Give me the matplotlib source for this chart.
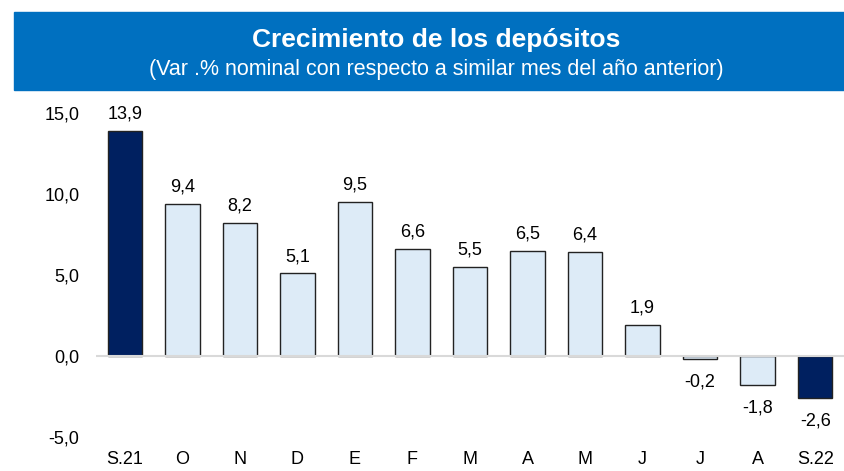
import numpy as np
import matplotlib.pyplot as plt
from matplotlib.patches import Rectangle

plt.rcParams['font.family'] = ['Liberation Sans', 'DejaVu Sans']

months = ["S.21", "O", "N", "D", "E", "F", "M", "A", "M", "J", "J", "A", "S.22"]
values = [13.9, 9.4, 8.2, 5.1, 9.5, 6.6, 5.5, 6.5, 6.4, 1.9, -0.2, -1.8, -2.6]
highlight = [True] + [False] * 11 + [True]

fig = plt.figure(figsize=(8.44, 4.71), dpi=100)

# title banner
fig.patches.append(Rectangle((14 / 844, 1 - 90 / 471), 1, 78 / 471,
                             transform=fig.transFigure, color="#0070C0", zorder=0))
cx = 436 / 844
fig.text(cx, 1 - 40 / 471, "Crecimiento de los depósitos", ha="center", va="center",
         color="white", fontsize=19, fontweight="bold")
fig.text(cx, 1 - 69 / 471, "(Var .% nominal con respecto a similar mes del año anterior)",
         ha="center", va="center", color="white", fontsize=15.5)

ax = fig.add_axes([96 / 844, 1 - 437 / 471, 1 - 96 / 844, 324 / 471])
x = np.arange(len(months))
colors = ["#002060" if h else "#DDEBF7" for h in highlight]
ax.bar(x, values, width=0.6, color=colors, edgecolor="#222222", linewidth=1.0, zorder=2)
ax.axhline(0, color="#D9D9D9", linewidth=1.5, zorder=3)

for xi, v in zip(x, values):
    label = f"{v:.1f}".replace(".", ",")
    if v >= 0:
        ax.annotate(label, (xi, v), xytext=(0, 6), textcoords="offset points",
                    ha="center", va="bottom", fontsize=13)
    else:
        ax.annotate(label, (xi, v), xytext=(0, -10), textcoords="offset points",
                    ha="center", va="top", fontsize=13)

ax.set_xlim(-0.5, len(months) - 0.5)
ax.set_ylim(-5, 15)
ax.set_yticks([-5, 0, 5, 10, 15])
ax.set_yticklabels([f"{t:.1f}".replace(".", ",") for t in [-5, 0, 5, 10, 15]], fontsize=13)
ax.set_xticks(x)
ax.set_xticklabels(months, fontsize=13)
ax.tick_params(axis="both", length=0)
ax.tick_params(axis="y", pad=12)
ax.tick_params(axis="x", pad=10)
for s in ax.spines.values():
    s.set_visible(False)

fig.savefig("out.png", dpi=100)
